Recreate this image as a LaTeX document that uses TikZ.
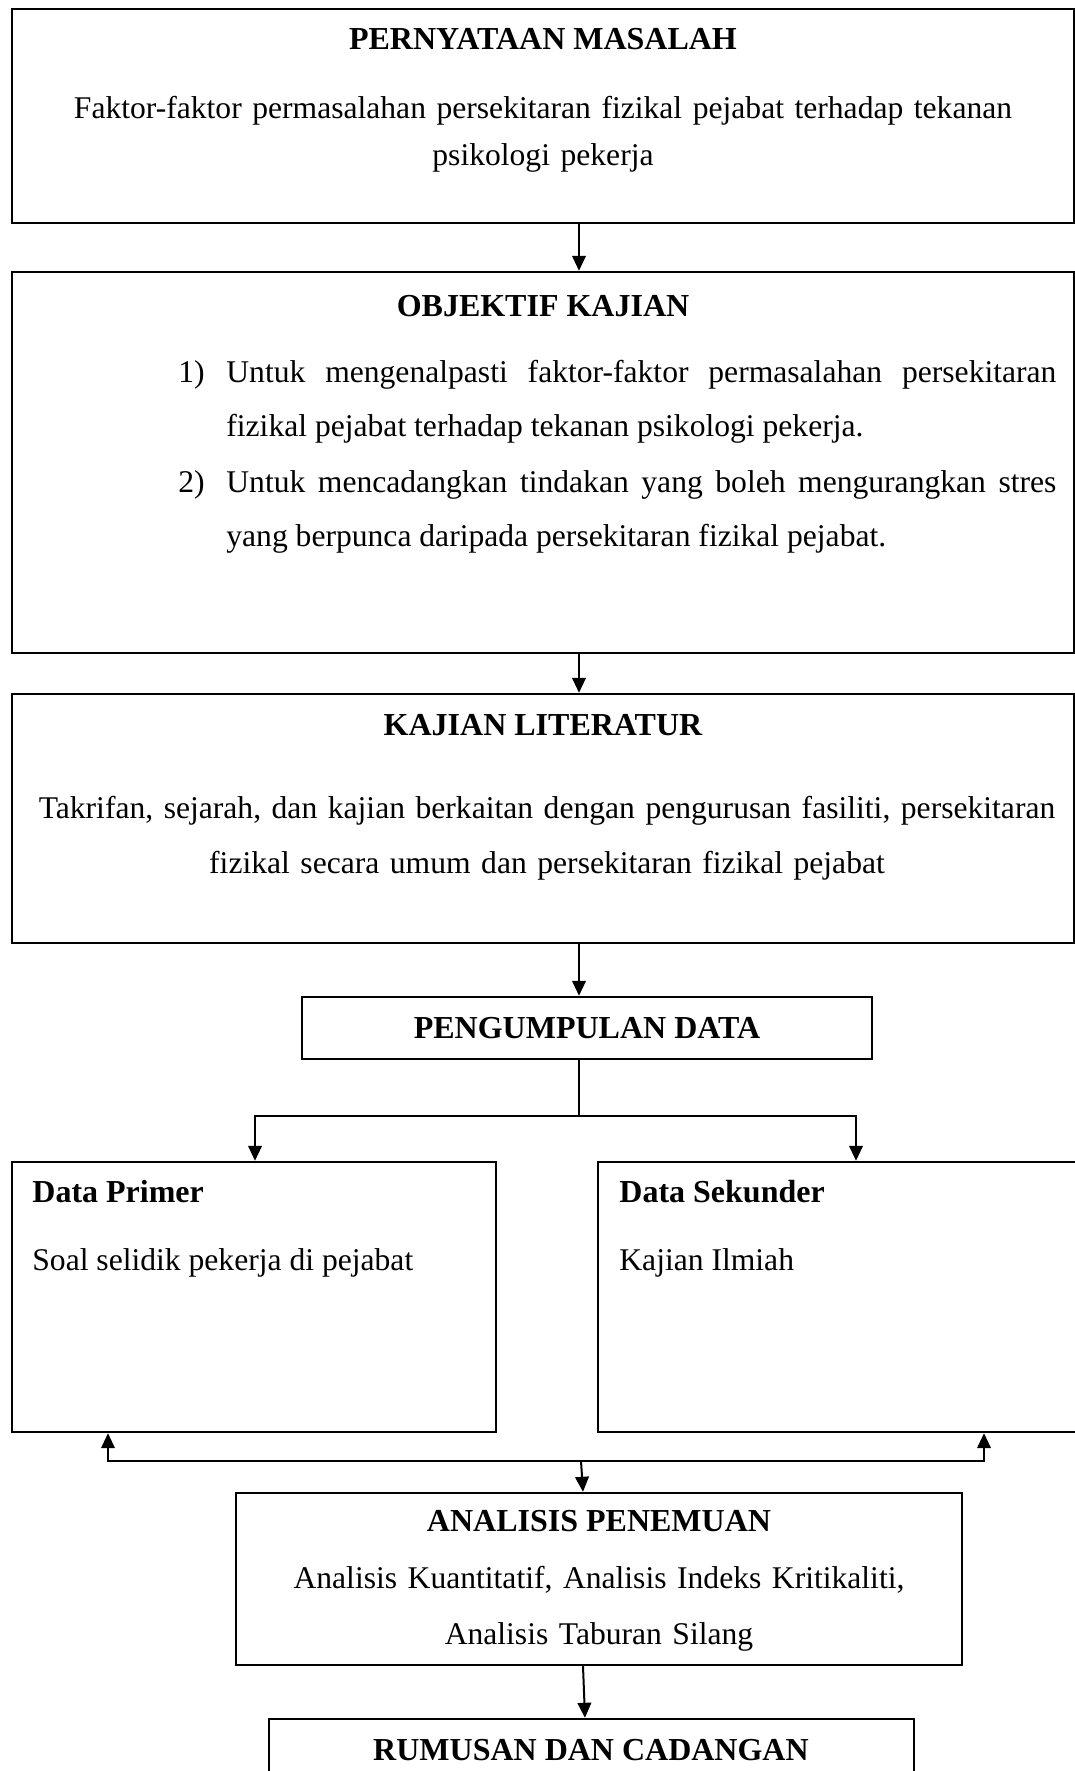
\documentclass[tikz,border=0pt]{standalone}
\usepackage{fontspec}
\setmainfont{Liberation Serif}
\usetikzlibrary{positioning, fit, arrows.meta}

\tikzset{
  box/.style={draw, line width=1.2pt, inner sep=0pt},
  arr/.style={-{Triangle[length=7.5pt,width=6.8pt]}, line width=1pt},
  link/.style={line width=0.6pt},
  heading/.style={font=\fontsize{16}{19}\selectfont\bfseries, inner sep=0pt, anchor=base},
  body/.style={font=\fontsize{15.8}{#1}\selectfont, inner sep=0pt, anchor=base,
    align=center, text width=530pt},
  plain/.style={font=\fontsize{15.8}{19}\selectfont, inner sep=0pt, anchor=base west},
  objitem/.style={font=\fontsize{15.8}{27.3}\selectfont\sloppy, inner sep=0pt,
    anchor=base west, align=justify, text width=415pt},
}

\begin{document}
\begin{tikzpicture}[x=0.5pt, y=-0.5pt]
\useasboundingbox (0,0) rectangle (1075,1771);

% columns for the connectors
\coordinate (mid) at (579,0);
\coordinate (colL) at (255,0);
\coordinate (colR) at (856,0);
\coordinate (colLb) at (108,0);
\coordinate (colRb) at (984,0);
\coordinate (midA) at (583,0);
\coordinate (midB) at (585,0);
\coordinate (split) at (579,1116);
\coordinate (join) at (581,1461);

% boxes
\node[box, fit={(12,9) (1074,223)}] (masalah) {};
\node[box, fit={(12,272) (1074,653)}] (objektif) {};
\node[box, fit={(12,694) (1074,943)}] (literatur) {};
\node[box, fit={(302,997) (872,1059)}] (pengumpulan) {};
\node[box, fit={(12,1162) (496,1432)}] (primer) {};
\node[box, fit={(598,1162) (1085,1432)}] (sekunder) {};
\node[box, fit={(236,1493) (962,1665)}] (analisis) {};
\node[box, fit={(269,1719) (914,1800)}] (rumusan) {};

% texts
\node[heading] (masalahT) at (543,50) {PERNYATAAN MASALAH};
\node[body=23.5pt] (masalahB) at (543,119)
  {Faktor-faktor permasalahan persekitaran fizikal pejabat terhadap tekanan\\ psikologi pekerja};

\node[heading] (objektifT) at (543,316) {OBJEKTIF KAJIAN};
\node[plain] (no1) at (178,382) {1)};
\node[objitem] (obj1) at (226,382)
  {Untuk mengenalpasti faktor-faktor permasalahan persekitaran\linebreak
   fizikal pejabat terhadap tekanan psikologi pekerja.};
\node[plain] (no2) at (178,492) {2)};
\node[objitem] (obj2) at (226,492)
  {Untuk mencadangkan tindakan yang boleh mengurangkan stres\linebreak
   yang berpunca daripada persekitaran fizikal pejabat.};

\node[heading] (literaturT) at (543,735) {KAJIAN LITERATUR};
\node[body=27.5pt] (literaturB) at (547,818)
  {Takrifan, sejarah, dan kajian berkaitan dengan pengurusan fasiliti, persekitaran\\
   fizikal secara umum dan persekitaran fizikal pejabat};

\node[heading] (pengumpulanT) at (587,1038) {PENGUMPULAN DATA};

\node[heading, anchor=base west] (primerT) at (32,1202) {Data Primer};
\node[plain] (primerB) at (32,1270) {Soal selidik pekerja di pejabat};
\node[heading, anchor=base west] (sekunderT) at (619,1202) {Data Sekunder};
\node[plain] (sekunderB) at (619,1270) {Kajian Ilmiah};

\node[heading] (analisisT) at (599,1531) {ANALISIS PENEMUAN};
\node[body=28pt] (analisisB) at (599,1588)
  {Analisis Kuantitatif, Analisis Indeks Kritikaliti,\\ Analisis Taburan Silang};

\node[heading] (rumusanT) at (591,1760) {RUMUSAN DAN CADANGAN};

% connectors
\draw[arr] (masalah.south -| mid) -- (objektif.north -| mid);
\draw[arr] (objektif.south -| mid) -- (literatur.north -| mid);
\draw[arr] (literatur.south -| mid) -- (pengumpulan.north -| mid);
\draw[link] (pengumpulan.south -| mid) -- (split);
\draw[arr] (split) -| (primer.north -| colL);
\draw[arr] (split) -| (sekunder.north -| colR);
\draw[arr] (join) -| (primer.south -| colLb);
\draw[arr] (join) -| (sekunder.south -| colRb);
\draw[arr] (join) -- (analisis.north -| midA);
\draw[arr] (analisis.south -| midA) -- (rumusan.north -| midB);
\end{tikzpicture}
\end{document}
